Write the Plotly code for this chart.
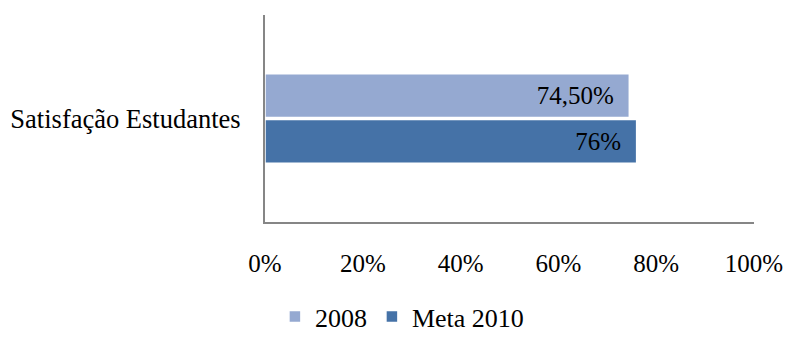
import plotly.graph_objects as go

categories = ["Satisfação Estudantes"]
series_names = ["2008", "Meta 2010"]
values_2008 = [0.745]
values_meta = [0.76]
labels_2008 = ["74,50%"]
labels_meta = ["76%"]
tick_vals = [0, 0.2, 0.4, 0.6, 0.8, 1.0]
tick_text = ["0%", "20%", "40%", "60%", "80%", "100%"]

font_family = "Liberation Serif"
pad = "\u00a0\u00a0"

fig = go.Figure()
fig.add_trace(go.Bar(
    y=categories, x=values_meta, name=series_names[1], orientation="h",
    marker=dict(color="#4572A7", line=dict(color="white", width=1.5)),
    text=[t + pad for t in labels_meta], textposition="inside", insidetextanchor="end",
    textfont=dict(family=font_family, size=25, color="black"),
))
fig.add_trace(go.Bar(
    y=categories, x=values_2008, name=series_names[0], orientation="h",
    marker=dict(color="#95A9D1", line=dict(color="white", width=1.5)),
    text=[t + pad for t in labels_2008], textposition="inside", insidetextanchor="end",
    textfont=dict(family=font_family, size=25, color="black"),
))

fig.update_layout(
    width=786, height=340,
    margin=dict(l=265, r=32, t=15, b=118, autoexpand=False),
    paper_bgcolor="white", plot_bgcolor="white",
    barmode="group", bargap=0.56, bargroupgap=0.04,
    font=dict(family=font_family, size=25, color="black"),
    showlegend=True,
    legend=dict(orientation="h", traceorder="reversed",
                x=0.28, xanchor="center", yref="container", y=0.0, yanchor="bottom",
                font=dict(size=26), itemwidth=30, tracegroupgap=0),
    uniformtext=dict(minsize=8, mode=False),
)
fig.update_xaxes(range=[0, 1.0], tickvals=tick_vals, ticktext=tick_text,
                 showgrid=False, zeroline=False, showline=True,
                 linecolor="#868686", linewidth=2,
                 ticks="outside", ticklen=18, tickcolor="rgba(0,0,0,0)",
                 tickfont=dict(size=25))
fig.update_yaxes(showgrid=False, showline=True, linecolor="#868686", linewidth=2,
                 ticks="outside", ticklen=17, tickcolor="rgba(0,0,0,0)",
                 tickfont=dict(size=26.5))

fig.write_html("out.html")
